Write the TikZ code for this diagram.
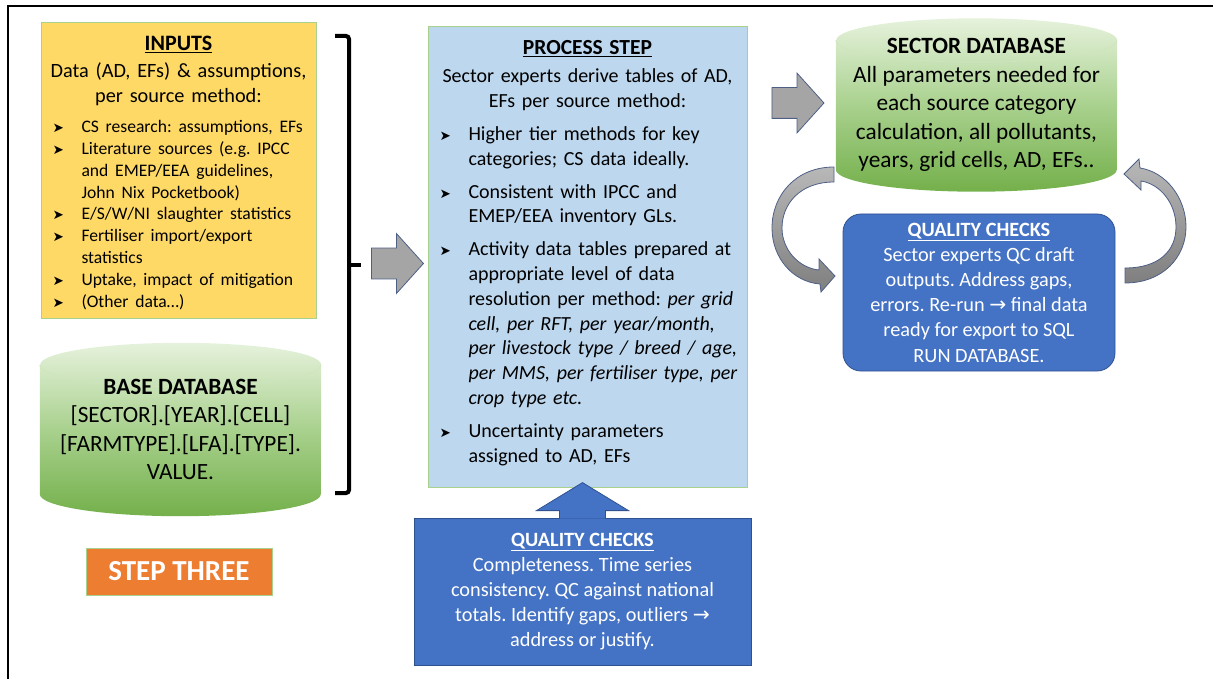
\documentclass[tikz,border=0pt]{standalone}
\usepackage{fontspec}
\setmainfont{Carlito}
\newfontfamily\symfont{DejaVu Sans}
\usetikzlibrary{shapes.arrows,calc,backgrounds}
\frenchspacing

\definecolor{inputyellow}{HTML}{FFD966}
\definecolor{boxedge}{HTML}{A9D18E}
\definecolor{procblue}{HTML}{BDD7EE}
\definecolor{qcblue}{HTML}{4472C4}
\definecolor{qcedge}{HTML}{2F528F}
\definecolor{steporange}{HTML}{ED7D31}
\definecolor{arrowgray}{HTML}{A5A5A5}
\definecolor{arrowedge}{HTML}{4E5F86}
\definecolor{ribbonlight}{HTML}{B8B8B8}
\definecolor{ribbondark}{HTML}{7F7F7F}
\definecolor{drumtop}{HTML}{E6F2DC}
\definecolor{drummid}{HTML}{A9D18E}
\definecolor{drumbot}{HTML}{74B04B}

\newlength{\bulind}
\setlength{\bulind}{38.5pt}
\newcommand{\bul}{{\symfont\fontsize{13.5}{13.5}\selectfont ➤}}
\newcommand{\pitem}[1]{\par\noindent\hangindent=\bulind\hangafter=1\makebox[\bulind][l]{\hspace{9.5pt}\bul}#1}
\newcommand{\rarr}{{\symfont →}}

% cylinder drawn round a named node
\newcommand{\dbdrum}[1]{%
  \shade[drumbody] ([yshift=-22pt]#1.north west) -- ([yshift=22pt]#1.south west)
    arc[start angle=180, end angle=0, x radius=140.5, y radius=22]
    -- ([yshift=-22pt]#1.north east)
    arc[start angle=0, end angle=-180, x radius=140.5, y radius=22] -- cycle;
  \draw[drumrim] ([yshift=-22pt]#1.north west)
    arc[start angle=180, end angle=0, x radius=140.5, y radius=22];}

\tikzset{
  inbox/.style={draw=boxedge, line width=1pt, fill=inputyellow, text width=271pt,
    inner xsep=2pt, inner ysep=0pt, minimum height=295pt, align=left,
    font=\fontsize{20.3}{25}\selectfont},
  procbox/.style={draw=boxedge, line width=1pt, fill=procblue, text width=315pt,
    inner xsep=2pt, inner ysep=0pt, minimum height=460pt, align=left,
    font=\fontsize{20}{24.8}\selectfont},
  qcbox/.style={fill=qcblue, draw=qcedge, line width=0.8pt, text=white, align=center,
    inner sep=0pt, font=\fontsize{20.3}{25.2}\selectfont},
  drum/.style={minimum width=281pt, minimum height=173pt, align=center, inner sep=0pt,
    font=\fontsize{23.3}{28.5}\selectfont},
  drumbody/.style={top color=drumtop, bottom color=drumbot, middle color=drummid},
  drumrim/.style={draw=drumtop!60!drummid, line width=0.7pt},
  stepbox/.style={fill=steporange, draw=boxedge, line width=0.8pt, text=white,
    minimum width=186pt, minimum height=47pt, inner sep=0pt,
    font=\fontsize{29}{30}\selectfont\bfseries},
  grayarrow/.style={single arrow, draw=arrowedge, fill=arrowgray, line width=0.8pt,
    minimum height=52pt, inner xsep=0pt, inner ysep=15pt, single arrow head extend=14.5pt,
    single arrow tip angle=96},
  ribbon/.style={top color=ribbonlight, bottom color=ribbondark, draw=arrowedge, line width=0.8pt},
  brace/.style={line width=4pt, rounded corners=3pt},
}

\begin{document}
\begin{tikzpicture}[x=1pt, y=-1pt]
\useasboundingbox (0,0) rectangle (1213,679);
\draw[line width=1.2pt] (8,679) -- (8,6) -- (1213,6);

% left column
\node[inbox] (inputs) at (178.5,170.5) {%
  {\centering\fontsize{22}{26}\selectfont\underline{\textbf{INPUTS}}\par}
  \vspace{2pt}
  {\centering Data (AD, EFs) \& assumptions,\\ per source method:\par}
  \vspace{8pt}
  {\fontsize{17.6}{21.8}\selectfont
  \pitem{CS research: assumptions, EFs}
  \pitem{Literature sources (e.g. IPCC\newline and EMEP/EEA guidelines,\newline John Nix Pocketbook)}
  \pitem{E/S/W/NI slaughter statistics}
  \pitem{Fertiliser import/export\newline statistics}
  \pitem{Uptake, impact of mitigation}
  \pitem{(Other data\ldots)}\par}
  \vspace{-5pt}\kern0pt
};

\node[drum] (basedb) at (180.5,429.5) {\textbf{BASE DATABASE}\\ {}[SECTOR].[YEAR].[CELL]\\
  {}[FARMTYPE].[LFA].[TYPE].\\ VALUE.};

\node[stepbox] (step) at (179,571.5) {STEP THREE};

\draw[brace] (335,36) -- (349,36) -- (349,493) -- (335,493);
\draw[line width=4pt] (349,265) -- (361,265);

\node[grayarrow] (toproc) at (390.5,263.5) {};

% middle column
\node[procbox] (process) at (587.5,257) {%
  {\centering\fontsize{21.5}{26}\selectfont\underline{\textbf{PROCESS STEP}}\par}
  \vspace{3pt}
  {\centering\fontsize{20}{25}\selectfont Sector experts derive tables of AD,\\ EFs per source method:\par}
  \vspace{8pt}
  \pitem{Higher tier methods for key\newline categories; CS data ideally.}
  \par\vspace{8pt}
  \pitem{Consistent with IPCC and\newline EMEP/EEA inventory GLs.}
  \par\vspace{8pt}
  \pitem{Activity data tables prepared at\newline appropriate level of data\newline
    resolution per method: \textit{per grid}\newline \textit{cell, per RFT, per year/month,}\newline
    \textit{per livestock type / breed / age,}\newline \textit{per MMS, per fertiliser type, per}\newline
    \textit{crop type etc.}}
  \par\vspace{8pt}
  \pitem{Uncertainty parameters\newline assigned to AD, EFs}
  \par\vspace{8pt}\kern0pt
};

\node[qcbox, minimum width=337pt, minimum height=147pt] (qcin) at (582.5,591.5)
  {\underline{\textbf{QUALITY CHECKS}}\\ Completeness. Time series\\ consistency. QC against national\\
   totals. Identify gaps, outliers \rarr\\ address or justify.};
\filldraw[fill=qcblue, draw=qcedge, line width=0.8pt]
  ($(qcin.north)+(-23,1)$) -- ($(qcin.north)+(-23,-7)$) -- ($(qcin.north)+(-46,-7)$)
  -- ($(qcin.north)+(0,-35)$) -- ($(qcin.north)+(46,-7)$) -- ($(qcin.north)+(23,-7)$)
  -- ($(qcin.north)+(23,1)$);

\node[grayarrow] (tosector) at (791,103) {};

% right column
\node[drum] (sectordb) at (976.5,105) {\textbf{SECTOR DATABASE}\\ All parameters needed for\\
  each source category\\ calculation, all pollutants,\\ years, grid cells, AD, EFs..};

\node[qcbox, rounded corners=18pt, minimum width=272pt, minimum height=157pt] (qcout) at (979,292.5)
  {\underline{\textbf{QUALITY CHECKS}}\\ Sector experts QC draft\\ outputs. Address gaps,\\
   errors. Re-run \rarr{} final data\\ ready for export to SQL\\ RUN DATABASE.};

\begin{scope}[on background layer]
  \dbdrum{basedb}
  \dbdrum{sectordb}
\end{scope}

% loop between sector database and its checks
\shadedraw[ribbon] (834,167) .. controls (796,167) and (772,195) .. (772,228)
  .. controls (772,258) and (793,282) .. (820,284) -- (821,292) -- (835,276) -- (819,259)
  -- (819,270) .. controls (799,268) and (782,250) .. (782,228)
  .. controls (782,204) and (800,182) .. (834,182) -- cycle;
\shadedraw[ribbon] (1125,283) .. controls (1163,283) and (1186,257) .. (1186,227)
  .. controls (1186,198) and (1166,172) .. (1140,168) -- (1139,159) -- (1124,174) -- (1141,190)
  -- (1141,181) .. controls (1160,184) and (1176,203) .. (1176,227)
  .. controls (1176,250) and (1160,268) .. (1125,268) -- cycle;

\end{tikzpicture}
\end{document}
